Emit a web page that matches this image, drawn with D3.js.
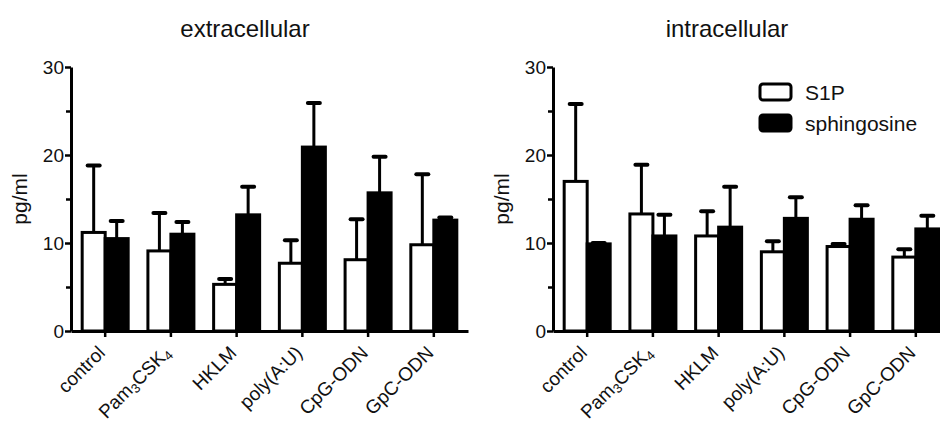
<!DOCTYPE html>
<html>
<head>
<meta charset="utf-8">
<script src="https://cdn.jsdelivr.net/npm/d3@7"></script>
<style>
    body { margin: 0; background: #fff; }
    text { font-family: "Liberation Sans", Arial, sans-serif; fill: #111; }
</style>
</head>
<body>
<div id="chart"></div>
<script>
//画布尺寸
const width = 940;
const height = 423;

//数据
const categories = ["control", "Pam3CSK4", "HKLM", "poly(A:U)", "CpG-ODN", "GpC-ODN"];
const series = ["S1P", "sphingosine"];

// extracellular: 均值和误差上限
const extraS1P = [11.2, 9.1, 5.3, 7.7, 8.1, 9.8];
const extraS1PUpper = [18.8, 13.4, 5.9, 10.3, 12.7, 17.8];
const extraSph = [10.5, 11.0, 13.2, 20.9, 15.7, 12.6];
const extraSphUpper = [12.5, 12.4, 16.4, 25.9, 19.8, 12.9];

// intracellular
const intraS1P = [17.0, 13.3, 10.8, 9.0, 9.6, 8.4];
const intraS1PUpper = [25.8, 18.9, 13.6, 10.2, 9.9, 9.3];
const intraSph = [9.9, 10.8, 11.8, 12.8, 12.7, 11.6];
const intraSphUpper = [10.0, 13.2, 16.4, 15.2, 14.3, 13.1];

const yTicks = [0, 10, 20, 30];
const yMinorTicks = [5, 15, 25];

var svg = d3.select("#chart").append("svg")
    .attr("width", width).attr("height", height);

var y = d3.scaleLinear().domain([0, 30]).range([331, 67]);

draw_panel(71, "extracellular", extraS1P, extraS1PUpper, extraSph, extraSphUpper, false);
draw_panel(553, "intracellular", intraS1P, intraS1PUpper, intraSph, intraSphUpper, true);

function draw_panel(left, title, s1p, s1pUp, sph, sphUp, showLegend) {
    var g = svg.append("g").attr("transform", "translate(" + left + ",0)");

    var x = d3.scaleBand().domain(categories).range([0, 397])
        .paddingInner(0).paddingOuter(0.02);
    var x1 = d3.scaleBand().domain(series).range([-23, 23]);

    var rows = categories.map(function (c, i) {
        return [
            {cat: c, key: "S1P", v: s1p[i], up: s1pUp[i]},
            {cat: c, key: "sphingosine", v: sph[i], up: sphUp[i]}
        ];
    });

    var groups = g.selectAll(".grp")
        .data(rows)
        .enter()
        .append("g")
        .attr("transform", function (d) {
            return "translate(" + (x(d[0].cat) + x.bandwidth() / 2) + ",0)";
        });

    //误差线
    var err = groups.selectAll(".err")
        .data(function (d) { return d; })
        .enter()
        .append("g")
        .attr("class", "err");
    err.append("line")
        .attr("x1", function (d) { return x1(d.key) + x1.bandwidth() / 2; })
        .attr("x2", function (d) { return x1(d.key) + x1.bandwidth() / 2; })
        .attr("y1", function (d) { return y(d.v); })
        .attr("y2", function (d) { return y(d.up); })
        .attr("stroke", "#000").attr("stroke-width", 3);
    err.append("line")
        .attr("x1", function (d) { return x1(d.key) + x1.bandwidth() / 2 - 6; })
        .attr("x2", function (d) { return x1(d.key) + x1.bandwidth() / 2 + 6; })
        .attr("y1", function (d) { return y(d.up); })
        .attr("y2", function (d) { return y(d.up); })
        .attr("stroke", "#000").attr("stroke-width", 4)
        .attr("stroke-linecap", "round");

    //柱子
    groups.selectAll(".bar")
        .data(function (d) { return d; })
        .enter()
        .append("rect")
        .attr("class", "bar")
        .attr("x", function (d) { return x1(d.key); })
        .attr("width", x1.bandwidth())
        .attr("y", function (d) { return y(d.v); })
        .attr("height", function (d) { return y(0) - y(d.v); })
        .attr("fill", function (d) { return d.key === "S1P" ? "#fff" : "#000"; })
        .attr("stroke", "#000")
        .attr("stroke-width", 3);

    //y轴
    var yAxis = g.append("g")
        .call(d3.axisLeft(y).tickValues(yTicks).tickSize(6).tickSizeOuter(0).tickPadding(1));
    yAxis.select(".domain").attr("stroke-width", 3);
    yAxis.selectAll(".tick line").attr("stroke-width", 2.5);
    yAxis.selectAll(".tick text").attr("font-size", 19).attr("fill", "#111")
        .style("font-family", "'Liberation Sans', Arial, sans-serif");

    var yMinor = g.append("g")
        .call(d3.axisLeft(y).tickValues(yMinorTicks).tickSize(5).tickFormat(""));
    yMinor.select(".domain").remove();
    yMinor.selectAll(".tick line").attr("stroke-width", 2.5);

    //x轴
    var xAxis = g.append("g")
        .attr("transform", "translate(0," + y(0) + ")")
        .call(d3.axisBottom(x).tickSize(6).tickSizeOuter(0).tickFormat(""));
    xAxis.select(".domain").attr("stroke-width", 3);
    xAxis.selectAll(".tick line").attr("stroke-width", 2.5);

    var labels = g.selectAll(".xlab")
        .data(categories)
        .enter()
        .append("text")
        .attr("class", "xlab")
        .attr("font-size", 19)
        .attr("text-anchor", "end")
        .attr("transform", function (d) {
            return "translate(" + (x(d) + x.bandwidth() / 2 + 1) + "," + (y(0) + 23) + ") rotate(-45)";
        });
    labels.each(function (d) {
        var t = d3.select(this);
        if (d === "Pam3CSK4") {
            t.append("tspan").text("Pam");
            t.append("tspan").text("3").attr("font-size", 13).attr("dy", 3);
            t.append("tspan").text("CSK").attr("dy", -3);
            t.append("tspan").text("4").attr("font-size", 13).attr("dy", 3);
        } else {
            t.text(d);
        }
    });

    //标题
    g.append("text")
        .attr("x", 174)
        .attr("y", 37)
        .attr("text-anchor", "middle")
        .attr("font-size", 24)
        .text(title);

    //y轴标题
    g.append("text")
        .attr("transform", "translate(" + (-44) + "," + (y(15)) + ") rotate(-90)")
        .attr("text-anchor", "middle")
        .attr("font-size", 21)
        .text("pg/ml");

    if (showLegend) {
        var lg = svg.append("g").attr("class", "legend");
        var items = lg.selectAll(".item")
            .data(series)
            .enter()
            .append("g")
            .attr("transform", function (d, i) { return "translate(760," + (84 + i * 31) + ")"; });
        items.append("rect")
            .attr("width", 31).attr("height", 16).attr("rx", 3)
            .attr("fill", function (d) { return d === "S1P" ? "#fff" : "#000"; })
            .attr("stroke", "#000").attr("stroke-width", 3);
        items.append("text")
            .attr("x", 45).attr("y", 16)
            .attr("font-size", 21)
            .text(function (d) { return d; });
    }
}
</script>
</body>
</html>
